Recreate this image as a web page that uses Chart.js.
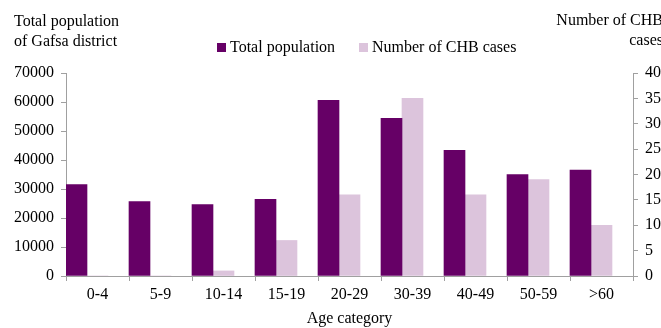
<!DOCTYPE html>
<html>
<head>
<meta charset="utf-8">
<script src="https://cdn.jsdelivr.net/npm/chart.js@4"></script>
<style>
  body { margin: 0; background: #fff; }
  #wrap { position: relative; width: 661px; height: 328px; overflow: hidden; font-family: "Liberation Serif", serif; font-size: 16px; color: #000; }
  .title { position: absolute; line-height: 20px; white-space: nowrap; }
  #leftTitle { left: 14px; top: 11px; }
  #rightTitle { right: -2px; top: 10px; text-align: right; }
  #legend { position: absolute; top: 37px; left: 217px; white-space: nowrap; line-height: 20px; }
  .item { position: absolute; top: 0; }
  .box { display: inline-block; width: 9px; height: 9px; margin-right: 4px; vertical-align: 0px; }
</style>
</head>
<body>
<div id="wrap">
  <canvas id="c" width="661" height="328"></canvas>
  <div class="title" id="leftTitle">Total population<br>of Gafsa district</div>
  <div class="title" id="rightTitle">Number of CHB<br>cases</div>
  <div id="legend"></div>
</div>
<script>
const categories = ['0-4', '5-9', '10-14', '15-19', '20-29', '30-39', '40-49', '50-59', '>60'];
const totalPopulation = [31500, 25700, 24600, 26400, 60600, 54400, 43300, 35000, 36500];
const chbCases = [0, 0, 1, 7, 16, 35, 16, 19, 10];
const leftTicks = [0, 10000, 20000, 30000, 40000, 50000, 60000, 70000];
const rightTicks = [0, 5, 10, 15, 20, 25, 30, 35, 40];

const DARK = '#660066';
const LIGHT = '#dcc4dc';
const AXIS = '#a0a0a0';
const FONT = { family: '"Liberation Serif", serif', size: 16 };

// html legend, placed like the original (not centred on the canvas)
const legendItems = [
  { label: 'Total population', color: DARK, left: 0 },
  { label: 'Number of CHB cases', color: LIGHT, left: 142 },
];
document.getElementById('legend').innerHTML = legendItems
  .map((it) => `<span class="item" style="left:${it.left}px"><span class="box" style="background:${it.color}"></span>${it.label}</span>`)
  .join('');

new Chart(document.getElementById('c'), {
  type: 'bar',
  data: {
    labels: categories,
    datasets: [{
      label: 'Total population',
      data: totalPopulation,
      backgroundColor: DARK,
      yAxisID: 'y',
    },
    {
      label: 'Number of CHB cases',
      data: chbCases,
      backgroundColor: LIGHT,
      yAxisID: 'y1',
    },
    {
      // empty slot so the pair sits on the left two thirds, as in the source
      label: '',
      data: [],
      yAxisID: 'y',
    }],
  },
  options: {
    responsive: false,
    animation: false,
    layout: { padding: { top: 73, left: 0, right: 0, bottom: 0 } },
    plugins: {
      legend: { display: false },
      tooltip: { enabled: false },
    },
    datasets: {
      bar: {
        barPercentage: 1,
        categoryPercentage: 1,
      },
    },
    scales: {
      x: {
        offset: true,
        border: { color: AXIS },
        grid: {
          offset: true, drawOnChartArea: false, drawTicks: true, tickLength: 5, color: AXIS,
        },
        ticks: {
          color: '#000', font: FONT, padding: 4, maxRotation: 0, autoSkip: false,
        },
        title: {
          display: true, text: 'Age category', color: '#000', font: FONT, padding: { top: 0, bottom: 0 },
        },
        afterFit: (scale) => { scale.height = 52; },
      },
      y: {
        position: 'left',
        min: 0,
        max: 70000,
        border: { color: AXIS },
        grid: {
          drawOnChartArea: false, drawTicks: true, tickLength: 5, color: AXIS,
        },
        afterBuildTicks: (scale) => { scale.ticks = leftTicks.map((value) => ({ value })); },
        ticks: {
          color: '#000', font: FONT, padding: 7, callback: (value) => String(value),
        },
        afterFit: (scale) => { scale.width = 66; },
      },
      y1: {
        position: 'right',
        min: 0,
        max: 40,
        border: { color: AXIS },
        grid: {
          drawOnChartArea: false, drawTicks: true, tickLength: 5, color: AXIS,
        },
        afterBuildTicks: (scale) => { scale.ticks = rightTicks.map((value) => ({ value })); },
        ticks: {
          color: '#000', font: FONT, padding: 7, callback: (value) => String(value),
        },
        afterFit: (scale) => { scale.width = 28; },
      },
    },
  },
});
</script>
</body>
</html>
